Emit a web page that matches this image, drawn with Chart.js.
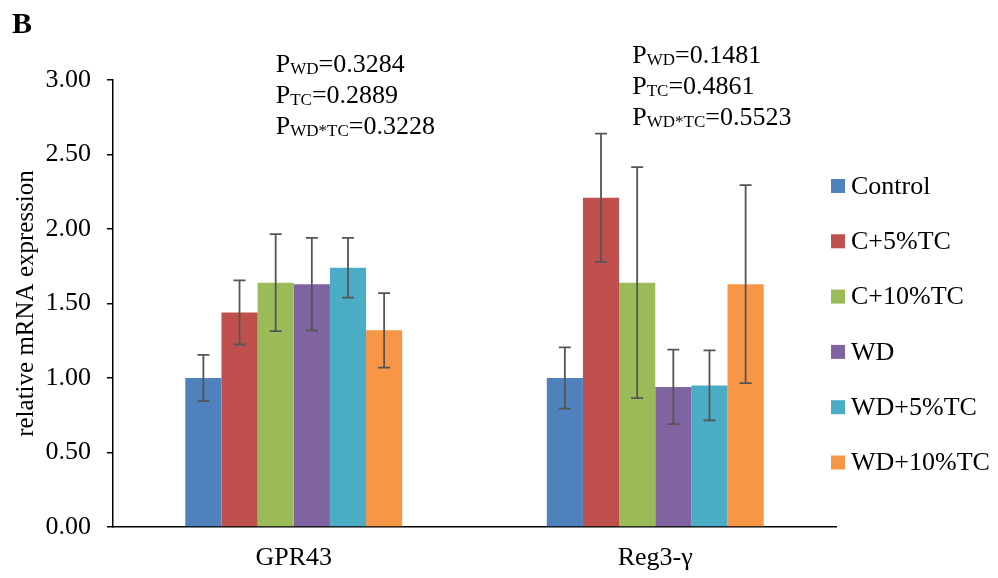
<!DOCTYPE html>
<html>
<head>
<meta charset="utf-8">
<script src="https://cdn.jsdelivr.net/npm/chart.js@4.4.0/dist/chart.umd.min.js"></script>
<style>
  html, body { margin: 0; padding: 0; background: #fff; }
  #wrap { width: 998px; height: 578px; }
</style>
</head>
<body>
<div id="wrap"><canvas id="chart" width="998" height="578"></canvas></div>
<script>
  // genes on the x axis and the six diet groups
  const genes = ['GPR43', 'Reg3-γ'];
  const groups = ['Control', 'C+5%TC', 'C+10%TC', 'WD', 'WD+5%TC', 'WD+10%TC'];
  const colors = ['#4F81BD', '#C0504D', '#9BBB59', '#8064A2', '#4BACC6', '#F79646'];

  // mean relative expression, [GPR43, Reg3-γ]
  const control = [1.00, 1.00];
  const c5tc = [1.44, 2.21];
  const c10tc = [1.64, 1.64];
  const wd = [1.63, 0.94];
  const wd5tc = [1.74, 0.95];
  const wd10tc = [1.32, 1.63];

  // error bars (+/-)
  const errControl = [0.155, 0.205];
  const errC5tc = [0.215, 0.43];
  const errC10tc = [0.325, 0.775];
  const errWd = [0.31, 0.25];
  const errWd5tc = [0.20, 0.235];
  const errWd10tc = [0.25, 0.665];

  // p values per gene
  const pWD = [0.3284, 0.1481];
  const pTC = [0.2889, 0.4861];
  const pWDxTC = [0.3228, 0.5523];

  const yTicks = [0, 0.5, 1, 1.5, 2, 2.5, 3];

  const serif = "'Liberation Serif', 'Times New Roman', serif";
  const means = [control, c5tc, c10tc, wd, wd5tc, wd10tc];
  const errs = [errControl, errC5tc, errC10tc, errWd, errWd5tc, errWd10tc];

  // error bars drawn on top of the bars
  const errorBars = {
    id: 'errorBars',
    afterDatasetsDraw(chart) {
      const ctx = chart.ctx;
      const y = chart.scales.y;
      ctx.save();
      ctx.strokeStyle = '#555';
      ctx.lineWidth = 1.8;
      chart.data.datasets.forEach((ds, i) => {
        chart.getDatasetMeta(i).data.forEach((bar, j) => {
          const v = ds.data[j], e = ds.errors[j];
          const top = y.getPixelForValue(v + e);
          const bot = y.getPixelForValue(v - e);
          ctx.beginPath();
          ctx.moveTo(bar.x, top); ctx.lineTo(bar.x, bot);
          ctx.moveTo(bar.x - 6, top); ctx.lineTo(bar.x + 6, top);
          ctx.moveTo(bar.x - 6, bot); ctx.lineTo(bar.x + 6, bot);
          ctx.stroke();
        });
      });
      ctx.restore();
    }
  };

  // p-value notes, legend and panel letter
  const noteDx = [-18, -23];
  const noteBase = [72, 63];
  const extras = {
    id: 'extras',
    afterDraw(chart) {
      const ctx = chart.ctx;
      const x = chart.scales.x;
      ctx.save();
      ctx.fillStyle = '#000';
      ctx.textBaseline = 'alphabetic';
      genes.forEach((g, i) => {
        const lines = [['WD', pWD[i]], ['TC', pTC[i]], ['WD*TC', pWDxTC[i]]];
        const bx = x.getPixelForValue(i) + noteDx[i];
        lines.forEach((ln, k) => {
          const by = noteBase[i] + k * 31;
          let cx = bx;
          ctx.font = '26px ' + serif;
          ctx.fillText('P', cx, by);
          cx += ctx.measureText('P').width;
          ctx.font = '17px ' + serif;
          ctx.fillText(ln[0], cx, by + 2);
          cx += ctx.measureText(ln[0]).width;
          ctx.font = '26px ' + serif;
          ctx.fillText('=' + ln[1].toFixed(4), cx, by);
        });
      });

      // legend
      ctx.textBaseline = 'middle';
      ctx.font = '26px ' + serif;
      chart.data.datasets.forEach((ds, i) => {
        const cy = 186 + i * 55.3;
        ctx.fillStyle = ds.backgroundColor;
        ctx.fillRect(831, cy - 7, 14, 14);
        ctx.fillStyle = '#000';
        ctx.fillText(ds.label, 851, cy + 1);
      });

      ctx.textBaseline = 'alphabetic';
      ctx.font = 'bold 30px ' + serif;
      ctx.fillText('B', 12, 33);
      ctx.restore();
    }
  };

  new Chart(document.getElementById('chart'), {
    type: 'bar',
    data: {
      labels: genes,
      datasets: groups.map((name, i) => ({
        label: name,
        data: means[i],
        errors: errs[i],
        backgroundColor: colors[i],
        borderWidth: 0,
        categoryPercentage: 0.6,
        barPercentage: 1.0
      }))
    },
    options: {
      responsive: false,
      animation: false,
      devicePixelRatio: 1,
      layout: { padding: { top: 80, right: 162, left: 0, bottom: 0 } },
      plugins: {
        legend: { display: false },
        tooltip: { enabled: false }
      },
      scales: {
        x: {
          grid: { display: false },
          border: { color: '#000', width: 1.5 },
          ticks: { color: '#000', font: { family: serif, size: 26 }, padding: 8 },
          afterFit: (s) => { s.height = 51; }
        },
        y: {
          min: 0,
          max: 3,
          afterBuildTicks: (s) => { s.ticks = yTicks.map(v => ({ value: v })); },
          grid: { drawOnChartArea: false, drawTicks: true, tickLength: 6, color: '#000', lineWidth: 1.5 },
          border: { color: '#000', width: 1.5 },
          ticks: {
            color: '#000',
            font: { family: serif, size: 26 },
            padding: 16,
            callback: (v) => Number(v).toFixed(2)
          },
          title: {
            display: true,
            text: 'relative mRNA expression',
            color: '#000',
            font: { family: serif, size: 25 },
            padding: { top: 11, bottom: 0 }
          },
          afterFit: (s) => { s.width = 113; }
        }
      }
    },
    plugins: [errorBars, extras]
  });
</script>
</body>
</html>
